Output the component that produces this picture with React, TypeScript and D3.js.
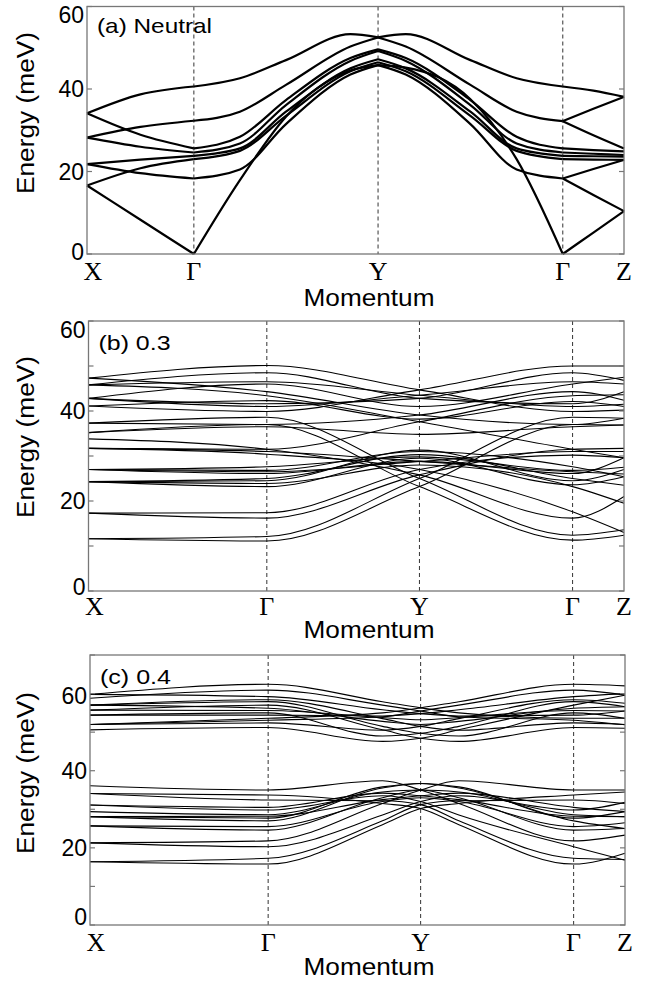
import React from "react";
import * as d3 from "d3";

// High-symmetry point labels along the momentum path
const kLabels = ["X", "Γ", "Y", "Γ", "Z"];
// Positions of the high-symmetry points along the path (fraction of path length)
const kPathA = [0, 0.199, 0.542, 0.886, 1];
const kPathBC = [0, 0.333, 0.618, 0.904, 1];

// Sampling grids: [segment index, fraction along segment]
const gridA: [number, number][] = [
  [0, 0], [0, 0.5], [1, 0], [1, 0.25], [1, 0.5], [1, 0.85], [2, 0],
  [2, 0.15], [2, 0.5], [2, 0.75], [3, 0], [3, 0.5], [3, 1],
];
const segmentsA = [[0, 1, 2], [2, 3, 4, 5, 6], [6, 7, 8, 9, 10], [10, 11, 12]];
const gridB: [number, number][] = [[0, 0], [1, 0], [2, 0], [3, 0], [3, 1]];
const gridC: [number, number][] = [[0, 0], [1, 0], [1, 0.75], [2, 0], [2, 0.25], [3, 0], [3, 1]];

// (a) Neutral: phonon energies (meV) on gridA
const bandsA: (number | null)[][] = [
  [34.1, 38.7, 40.6, 42.6, 47.0, 53.3, 52.5, 50.3, 41.0, 34.5, 32.2, 28.8, 25.6],
  [28.2, 30.8, 32.3, 34.5, 41.0, 50.3, 52.5, 53.3, 47.0, 42.6, 40.6, 39.6, 38.1],
  [34.1, 28.9, 25.6, 28.4, 37.3, 47.5, 49.6, 47.5, 37.3, 28.4, 25.6, 25.2, 24.9],
  [28.2, 26.0, 24.6, 26.8, 36.1, 46.8, 49.2, 46.8, 36.1, 26.8, 24.6, 24.3, 24.0],
  [21.8, 22.9, 23.8, 25.6, 34.5, 45.0, 47.2, 45.0, 34.5, 25.6, 23.8, 23.7, 23.6],
  [16.6, 20.8, 23.0, 25.0, 33.5, 44.3, 46.5, 44.3, 33.5, 25.0, 23.0, 22.9, 22.8],
  [21.8, 19.6, 18.3, 20.5, 31.5, 43.5, 45.8, 43.5, 31.5, 20.5, 18.3, 14.3, 10.4],
  [16.6, 8.3, 0.0, 17.9, 33.3, 44.5, 45.8, 45.2, 37.5, 23.0, 0.0, 5.2, 10.4],
  [null, null, null, null, null, null, null, null, null, null, 32.2, 35.2, 38.1],
  [null, null, null, null, null, null, null, null, null, null, 18.3, 20.6, 22.8],
];

// (b) 0.3: energies at X, Γ, Y, Γ, Z
const bandsB: number[][] = [
  [11.6, 11.1, 23.2, 37.0, 36.9],
  [35.2, 37.0, 23.2, 11.3, 12.4],
  [11.6, 12.1, 25.0, 38.6, 38.4],
  [37.3, 38.6, 25.0, 12.4, 13.6],
  [17.3, 16.2, 25.8, 31.5, 31.7],
  [33.8, 31.5, 25.8, 16.2, 21.0],
  [17.3, 17.4, 27.0, 30.2, 29.6],
  [31.7, 30.4, 27.0, 17.6, 13.0],
  [24.3, 23.2, 29.5, 23.6, 25.4],
  [24.3, 23.9, 28.0, 23.2, 19.5],
  [24.3, 24.5, 31.3, 24.5, 27.0],
  [24.3, 25.0, 30.3, 25.0, 23.5],
  [27.0, 26.1, 28.8, 26.1, 29.6],
  [27.0, 26.8, 31.0, 27.6, 25.4],
  [27.0, 27.6, 29.8, 26.8, 27.5],
  [27.0, 26.5, 28.8, 31.0, 31.0],
  [31.7, 31.0, 28.8, 26.5, 26.0],
  [31.7, 31.5, 37.6, 43.4, 43.6],
  [45.8, 43.4, 37.6, 31.5, 29.6],
  [37.3, 37.0, 39.1, 44.3, 42.4],
  [47.3, 44.3, 39.1, 37.0, 38.4],
  [41.1, 39.9, 44.7, 50.0, 50.0],
  [47.3, 50.1, 44.7, 39.9, 40.2],
  [42.8, 41.6, 42.8, 48.5, 46.8],
  [45.8, 48.5, 42.8, 41.6, 44.3],
  [42.8, 41.0, 43.5, 46.5, 46.0],
  [45.8, 46.5, 43.5, 41.0, 41.5],
  [35.2, 36.5, 34.8, 36.5, 36.9],
  [42.8, 46.0, 41.0, 46.0, 47.5],
  [41.1, 42.3, 38.2, 42.1, 41.0],
];

// (c) 0.4: energies at X, Γ, 3/4 Γ-Y, Y, 1/4 Y-Γ, Γ, Z
const bandsC: number[][] = [
  [59.8, 62.4, 57.9, 56.3, 55.0, 53.6, 53.6],
  [52.0, 53.6, 55.0, 56.3, 57.9, 62.4, 62.0],
  [58.8, 60.9, 57.0, 55.5, 54.0, 53.1, 51.9],
  [52.0, 53.1, 54.0, 55.5, 57.0, 60.9, 59.6],
  [50.6, 51.2, 47.6, 48.4, 50.6, 57.0, 59.6],
  [55.7, 57.0, 50.6, 48.4, 47.6, 51.2, 51.0],
  [59.8, 59.2, 55.8, 54.8, 54.2, 54.4, 55.5],
  [54.4, 54.4, 54.2, 54.8, 55.8, 59.2, 60.0],
  [57.0, 57.9, 51.5, 49.7, 49.0, 55.0, 53.6],
  [54.4, 55.0, 49.0, 49.7, 51.5, 57.9, 56.6],
  [57.0, 58.4, 53.5, 51.5, 50.5, 52.4, 52.0],
  [52.0, 52.4, 50.5, 51.5, 53.5, 58.4, 57.5],
  [57.0, 56.2, 52.8, 52.0, 52.8, 56.2, 56.6],
  [55.7, 55.6, 53.8, 53.2, 53.8, 55.6, 55.5],
  [16.4, 15.8, 26.0, 30.2, 31.5, 33.7, 34.5],
  [34.1, 33.7, 31.5, 30.2, 26.0, 15.8, 18.6],
  [16.4, 17.3, 27.0, 31.2, 32.2, 32.4, 31.5],
  [34.1, 32.4, 32.2, 31.2, 27.0, 17.3, 17.0],
  [21.3, 20.3, 28.5, 32.0, 33.5, 29.8, 31.8],
  [31.1, 29.8, 33.5, 32.0, 28.5, 20.3, 16.8],
  [21.3, 21.8, 31.5, 35.0, 37.4, 35.0, 35.0],
  [36.1, 35.0, 37.4, 35.0, 31.5, 21.8, 23.3],
  [25.7, 24.6, 33.0, 35.0, 34.5, 28.6, 28.1],
  [29.4, 28.6, 34.5, 35.0, 33.0, 24.6, 25.0],
  [28.1, 27.0, 35.5, 36.7, 35.8, 27.7, 29.4],
  [28.1, 27.7, 35.8, 36.7, 35.5, 27.0, 25.0],
  [28.1, 28.2, 32.5, 33.5, 34.2, 30.5, 29.4],
  [31.1, 30.5, 34.2, 33.5, 32.5, 28.2, 28.1],
  [25.7, 25.5, 32.0, 33.0, 32.0, 25.5, 26.5],
];

const yTicksA = [0, 20, 40, 60];
const yTicksB = [0, 10, 20, 30, 40, 50, 60];
const yTicksC = [0, 10, 20, 30, 40, 50, 60, 70];
const yTickLabels = [0, 20, 40, 60];

type PanelCfg = {
  title: string;
  titleLen: number;
  left: number; right: number; top: number; bottom: number;
  yMax: number;
  yTicks: number[];
  kPath: number[];
  grid: [number, number][];
  segments: number[][] | null;
  bands: (number | null)[][];
  strokeW: number;
  kLabelY: number;
  momentumY: number;
  energyY: number;
  botShift: number;
  topShift: number;
};

const SANS = "'Liberation Sans', Arial, Helvetica, sans-serif";
const SERIF = "'Liberation Serif', 'Times New Roman', serif";

function Panel({ p }: { p: PanelCfg }) {
  const x = d3.scaleLinear().domain([0, 1]).range([p.left, p.right]);
  const y = d3.scaleLinear().domain([0, p.yMax]).range([p.bottom, p.top]);
  const kAt = (s: number, f: number) =>
    p.kPath[s] + f * (p.kPath[Math.min(s + 1, p.kPath.length - 1)] - p.kPath[s]);
  const xs = p.grid.map(([s, f]) => kAt(s, f));
  const line = d3
    .line<[number, number]>()
    .x((d) => x(d[0]))
    .y((d) => y(d[1]))
    .curve(d3.curveMonotoneX);

  const paths: string[] = [];
  p.bands.forEach((band) => {
    const segs = p.segments ?? [band.map((_, i) => i)];
    segs.forEach((idx) => {
      if (idx.some((i) => band[i] == null)) return;
      const d = line(idx.map((i) => [xs[i], band[i] as number]));
      if (d) paths.push(d);
    });
  });

  const inner = p.kPath.slice(1, -1);
  return (
    <g>
      {inner.map((k, i) => (
        <line key={"v" + i} x1={x(k)} x2={x(k)} y1={p.top} y2={p.bottom}
          stroke="#333" strokeWidth={1} strokeDasharray="4,3" />
      ))}
      {paths.map((d, i) => (
        <path key={"b" + i} d={d} fill="none" stroke="#000" strokeWidth={p.strokeW}
          strokeLinejoin="round" />
      ))}
      <rect x={p.left} y={p.top} width={p.right - p.left} height={p.bottom - p.top}
        fill="none" stroke="#777" strokeWidth={1.3} />
      {p.yTicks.map((t) => (
        <g key={"t" + t}>
          <line x1={p.left} x2={p.left + 5} y1={y(t)} y2={y(t)} stroke="#777" strokeWidth={1.2} />
          <line x1={p.right - 5} x2={p.right} y1={y(t)} y2={y(t)} stroke="#777" strokeWidth={1.2} />
        </g>
      ))}
      {yTickLabels.filter((t) => t <= p.yMax).map((t) => (
        <text key={"l" + t} x={p.left - 3} y={y(t) + 8 + (t === 0 ? p.botShift : t === 60 ? p.topShift : 0)}
          textAnchor="end" fontFamily={SANS} fontSize={23} fill="#000">{t}</text>
      ))}
      {p.kPath.map((k, i) => (
        <text key={"k" + i} x={i === 0 ? x(k) + 6 : x(k)} y={p.kLabelY} textAnchor="middle"
          fontFamily={SERIF} fontSize={26} fill="#000">{kLabels[i]}</text>
      ))}
      <text x={369} y={p.momentumY} textAnchor="middle" fontFamily={SANS} fontSize={23}
        textLength={131} lengthAdjust="spacingAndGlyphs" fill="#000">Momentum</text>
      <text transform={`translate(34,${p.energyY}) rotate(-90)`} textAnchor="middle"
        fontFamily={SANS} fontSize={23} textLength={162} lengthAdjust="spacingAndGlyphs"
        fill="#000">Energy (meV)</text>
      <text x={p.left + 10} y={p.top + (p.title.startsWith("(a)") ? 26.5 : 29)} fontFamily={SANS}
        fontSize={21} textLength={p.titleLen} lengthAdjust="spacingAndGlyphs" fill="#000">{p.title}</text>
    </g>
  );
}

const panelA: PanelCfg = {
  title: "(a) Neutral", titleLen: 115,
  left: 87, right: 624, top: 6.5, bottom: 254, yMax: 60, yTicks: yTicksA,
  kPath: kPathA, grid: gridA, segments: segmentsA, bands: bandsA, strokeW: 2.2,
  kLabelY: 280, momentumY: 306, energyY: 113, botShift: -2, topShift: 8.5,
};
const panelB: PanelCfg = {
  title: "(b) 0.3", titleLen: 72,
  left: 88.5, right: 624, top: 321, bottom: 591, yMax: 60, yTicks: yTicksB,
  kPath: kPathBC, grid: gridB, segments: null, bands: bandsB, strokeW: 1.1,
  kLabelY: 615, momentumY: 638, energyY: 437, botShift: -4, topShift: 9,
};
const panelC: PanelCfg = {
  title: "(c) 0.4", titleLen: 71,
  left: 90, right: 625, top: 655, bottom: 925, yMax: 70, yTicks: yTicksC,
  kPath: kPathBC, grid: gridC, segments: null, bands: bandsC, strokeW: 1.1,
  kLabelY: 951, momentumY: 975, energyY: 773, botShift: -8, topShift: 2,
};

export default function App() {
  return (
    <svg width={660} height={986} viewBox="0 0 660 986"
      style={{ position: "absolute", left: 0, top: 0, background: "#fff" }}>
      <rect x={0} y={0} width={660} height={986} fill="#fff" />
      <Panel p={panelA} />
      <Panel p={panelB} />
      <Panel p={panelC} />
    </svg>
  );
}
